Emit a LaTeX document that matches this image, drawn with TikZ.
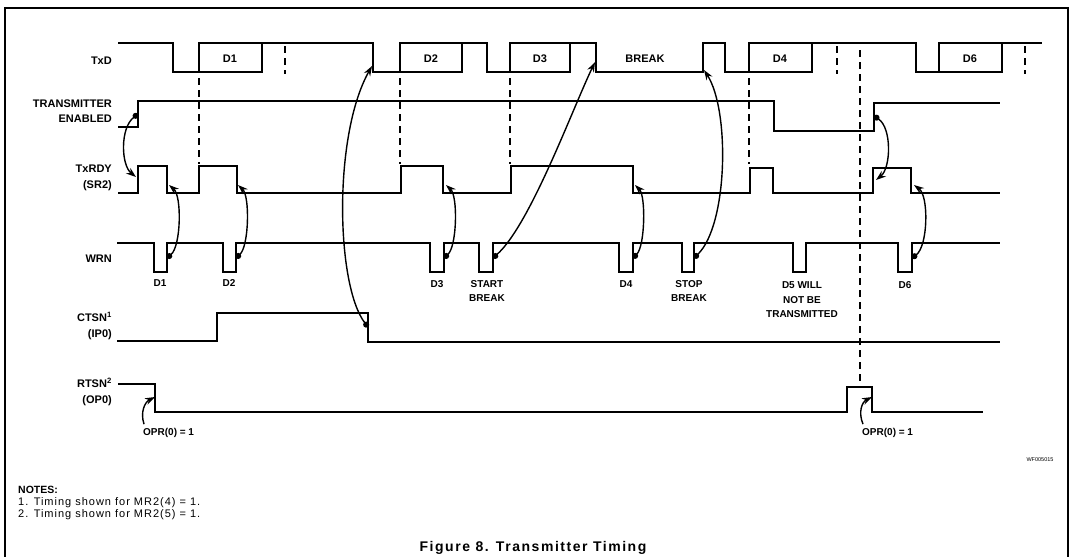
\documentclass[tikz,border=0pt]{standalone}
\usepackage{fontspec}
\setmainfont{Liberation Sans}
\newfontfamily\notefont[LetterSpace=9]{Liberation Sans}
\newfontfamily\titlefont[LetterSpace=11]{Liberation Sans}
\usetikzlibrary{arrows.meta}

\begin{document}
\begin{tikzpicture}[x=1pt, y=-1pt]
\tikzstyle{every node} = [inner sep=0pt, font=\bfseries\fontsize{11}{15.5}\selectfont]
\tikzstyle{signame} = [anchor=east, align=right]
\tikzstyle{plabel} = [align=center, font=\bfseries\fontsize{10}{14.5}\selectfont]
\tikzstyle{wave} = [line width=2.7pt, line join=miter]
\tikzstyle{guide} = [line width=1.5pt, dash pattern=on 7pt off 5pt]
\tikzstyle{cause} = [line width=1.4pt, {Circle[length=6pt]}-{Stealth[length=10pt,width=7pt]}]
\tikzstyle{setby} = [line width=1.4pt, -{Stealth[length=10pt,width=7pt]}]
\useasboundingbox (0,0) rectangle (1072,557);
\draw[line width=1.8pt] (5,557) -- (5,8) -- (1068,8) -- (1068,557);

% signal names
\node[signame] (txd) at (112,61) {TxD};
\node[signame] (te) at (112,111) {TRANSMITTER\\ENABLED};
\node[signame] (rdy) at (112,178) {TxRDY\\(SR2)};
\node[signame] (wrn) at (112,259) {WRN};
\node[signame] (cts) at (112,326) {CTSN\textsuperscript{1}\\(IP0)};
\node[signame] (rts) at (112,392) {RTSN\textsuperscript{2}\\(OP0)};

% waveforms
\draw[wave] (118,43) -- (173,43) -- (173,72) -- (199,72) -- (199,43) -- (373,43) -- (373,72)
  -- (400,72) -- (400,43) -- (487,43) -- (487,72) -- (510,72) -- (510,43) -- (596,43) -- (596,72)
  -- (703,72) -- (703,43) -- (725,43) -- (725,72) -- (749,72) -- (749,43) -- (916,43) -- (916,72)
  -- (939,72) -- (939,43) -- (1042,43);
\foreach \a/\b in {199/262, 400/462, 510/570, 749/812, 939/1002}
  \draw[wave] (\a,72) -- (\b,72) -- (\b,43);
\draw[wave] (118,127) -- (138,127) -- (138,101) -- (774,101) -- (774,131) -- (874,131) -- (874,103) -- (1000,103);
\draw[wave] (118,193) -- (138,193) -- (138,166) -- (167,166) -- (167,193) -- (199,193) -- (199,166)
  -- (237,166) -- (237,193) -- (401,193) -- (401,166) -- (443,166) -- (443,193) -- (511,193)
  -- (511,166) -- (633,166) -- (633,193) -- (750,193) -- (750,168) -- (773,168) -- (773,193)
  -- (873,193) -- (873,168) -- (911,168) -- (911,193) -- (1000,193);
\draw[wave] (117,243) -- (154,243) -- (154,272) -- (167,272) -- (167,243) -- (223,243) -- (223,272)
  -- (236,272) -- (236,243) -- (430,243) -- (430,272) -- (444,272) -- (444,243) -- (479,243)
  -- (479,272) -- (493,272) -- (493,243) -- (619,243) -- (619,272) -- (633,272) -- (633,243)
  -- (682,243) -- (682,272) -- (694,272) -- (694,243) -- (793,243) -- (793,272) -- (806,272)
  -- (806,243) -- (898,243) -- (898,272) -- (912,272) -- (912,243) -- (1000,243);
\draw[wave] (117,341) -- (217,341) -- (217,313) -- (368,313) -- (368,342) -- (1000,342);
\draw[wave] (118,384) -- (155,384) -- (155,412) -- (847,412) -- (847,387) -- (872,387) -- (872,412) -- (983,412);

% dashed marks
\foreach \x in {285, 837, 1025}
  \draw[guide] (\x,46) -- (\x,74);
\foreach \x in {199, 400, 510, 749}
  \draw[guide] (\x,78) -- (\x,164);
\draw[guide] (860,50) -- (860,384);

% data on TxD
\node (bd1) at (230,59) {D1};
\node (bd2) at (431,59) {D2};
\node (bd3) at (540,59) {D3};
\node (brk) at (645,59) {BREAK};
\node (bd4) at (780,59) {D4};
\node (bd6) at (970,59) {D6};

% write pulses
\node[plabel] (w1) at (160,283) {D1};
\node[plabel] (w2) at (229,283) {D2};
\node[plabel] (w3) at (437,284) {D3};
\node[plabel] (wsb) at (487,291) {START\\BREAK};
\node[plabel] (w4) at (626,284) {D4};
\node[plabel] (web) at (689,291) {STOP\\BREAK};
\node[plabel] (w5) at (802,300) {D5 WILL\\NOT BE\\TRANSMITTED};
\node[plabel] (w6) at (905,285) {D6};

% cause and effect
\foreach \n/\x/\b in {d1/167/14, d2/236/13, d3/444/13, d4/633/12, d6/912/16} {
  \coordinate (wr-\n) at (\x,258);
  \coordinate (rd-\n) at (\x+2,185);
  \draw[cause] (wr-\n) .. controls (\x+\b,246) and (\x+\b+1,196) .. (rd-\n);
}
\coordinate (te-up1) at (138,114);
\coordinate (rd-up1) at (136,177);
\draw[cause] (te-up1) .. controls (120,128) and (121,165) .. (rd-up1);
\coordinate (te-up2) at (874,116);
\coordinate (rd-up2) at (876,180);
\draw[cause] (te-up2) .. controls (892,128) and (891,168) .. (rd-up2);
\coordinate (ct-dn) at (368,327);
\coordinate (tx-d2) at (372,66);
\draw[cause] (ct-dn) .. controls (336,285) and (333,135) .. (tx-d2);
\coordinate (wr-sb) at (493,258);
\coordinate (tx-brk) at (595,62);
\draw[cause] (wr-sb) .. controls (530,225) and (572,110) .. (tx-brk);
\coordinate (wr-eb) at (694,258);
\coordinate (tx-end) at (704,70);
\draw[cause] (wr-eb) .. controls (728,225) and (730,110) .. (tx-end);

% output port
\node[plabel, anchor=west] (opr1) at (143,433) {OPR(0) = 1};
\node[plabel, anchor=west] (opr2) at (862,433) {OPR(0) = 1};
\coordinate (rt-dn1) at (155,397);
\coordinate (rt-dn2) at (872,397);
\draw[setby] ([xshift=1pt,yshift=4pt]opr1.north west) .. controls (140,412) and (145,402) .. (rt-dn1);
\draw[setby] ([xshift=1pt,yshift=4pt]opr2.north west) .. controls (858,412) and (862,402) .. (rt-dn2);

\node (wf) at (1040,460) {\mdseries\fontsize{5.5}{6}\selectfont WF005015};

% notes
\node[anchor=west, font=\bfseries\fontsize{10.5}{12}\selectfont] (notes) at (18,490) {NOTES:};
\node[anchor=west, font=\notefont\fontsize{11}{12}\selectfont] (n1) at (18,503) {1. Timing shown for MR2(4) = 1.};
\node[anchor=west, font=\notefont\fontsize{11}{12}\selectfont] (n2) at (18,515) {2. Timing shown for MR2(5) = 1.};
\node[font=\titlefont\bfseries\fontsize{14}{16}\selectfont] (title) at (533,548) {Figure 8. Transmitter Timing};
\end{tikzpicture}
\end{document}
